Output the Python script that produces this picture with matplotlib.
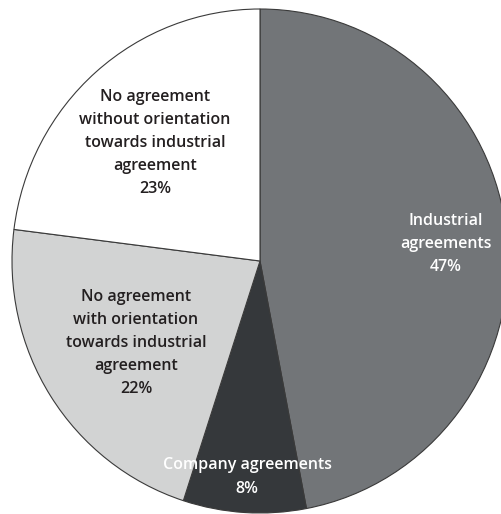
import matplotlib.pyplot as plt

# shares of companies by agreement type
categories = ["Industrial\nagreements",
              "Company agreements",
              "No agreement\nwith orientation\ntowards industrial\nagreement",
              "No agreement\nwithout orientation\ntowards industrial\nagreement"]
shares = [47, 8, 22, 23]

colors = ["#727578", "#35383b", "#d2d3d3", "#ffffff"]
text_colors = ["white", "white", "#231f20", "#231f20"]
# label anchor points in pixel coords (x, y from top)
label_pos = [(446, 244), (247, 477), (136, 343), (155, 143)]

W, H = 501, 514
sx = 252 / 248  # the original pie is a touch taller than wide

fig = plt.figure(figsize=(W / 100, H / 100), dpi=100)
ax = fig.add_axes([0, 0, 1, 1])

cx, cy, r = 260 * sx, H - 261, 252
ax.pie(shares, colors=colors, startangle=90, counterclock=False,
       center=(cx, cy), radius=r, frame=True,
       wedgeprops=dict(edgecolor="#3a3a3a", linewidth=0.8))
ax.set_aspect("auto")
ax.set_xlim(0, W * sx)
ax.set_ylim(0, H)
ax.axis("off")

for lab, val, (x, y), tc in zip(categories, shares, label_pos, text_colors):
    ax.text(x * sx, H - y, f"{lab}\n{val}%", ha="center", va="center",
            color=tc, fontsize=11.5, fontfamily="Open Sans",
            fontweight="semibold", linespacing=1.6)

fig.savefig("out.png", dpi=100)
